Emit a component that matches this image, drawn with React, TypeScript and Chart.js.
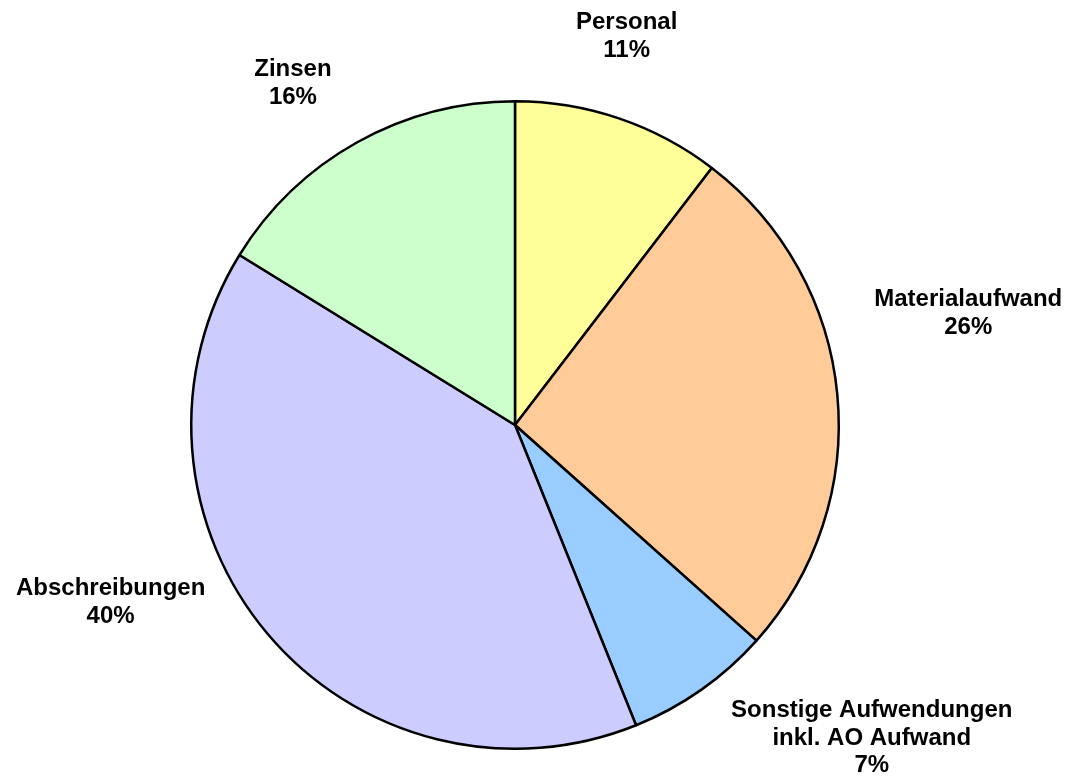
import React, { useEffect, useRef } from "react";
import { Chart, registerables } from "chart.js";

Chart.register(...registerables);

const categories: string[][] = [
  ["Personal"],
  ["Materialaufwand"],
  ["Sonstige Aufwendungen", "inkl. AO Aufwand"],
  ["Abschreibungen"],
  ["Zinsen"],
];
const values: number[] = [10.4, 26.2, 7.3, 39.9, 16.2];
const percentLabels: string[] = ["11%", "26%", "7%", "40%", "16%"];
const colors: string[] = ["#FFFF99", "#FFCC99", "#99CCFF", "#CCCCFF", "#CCFFCC"];

// label block centres, relative to pie centre, in units of the pie radius
const labelOffsets: [number, number][] = [
  [0.345, -1.201],
  [1.4, -0.345],
  [1.102, 0.967],
  [-1.249, 0.548],
  [-0.686, -1.054],
];

const labelPlugin = {
  id: "pieLabels",
  afterDatasetsDraw(chart: any) {
    const meta = chart.getDatasetMeta(0);
    if (!meta || !meta.data.length) return;
    const arc = meta.data[0];
    const cx = arc.x;
    const cy = arc.y;
    const r = arc.outerRadius;
    const ctx = chart.ctx;
    ctx.save();
    ctx.fillStyle = "#000";
    ctx.font = "bold 24px 'Liberation Sans', Arial, sans-serif";
    ctx.textAlign = "center";
    ctx.textBaseline = "middle";
    const lh = 27.8;
    categories.forEach((lines, i) => {
      const all = [...lines, percentLabels[i]];
      const [ox, oy] = labelOffsets[i];
      const bx = cx + ox * r;
      const by = cy + oy * r;
      all.forEach((t, j) => {
        ctx.fillText(t, bx, by + (j - (all.length - 1) / 2) * lh);
      });
    });
    ctx.restore();
  },
};

export default function App() {
  const ref = useRef<HTMLCanvasElement | null>(null);
  useEffect(() => {
    if (!ref.current) return;
    const chart = new Chart(ref.current, {
      type: "pie",
      data: {
        labels: categories.map((c) => c.join(" ")),
        datasets: [
          {
            data: values,
            backgroundColor: colors,
            borderColor: "#000000",
            borderWidth: 2.5,
          },
        ],
      },
      options: {
        animation: false,
        responsive: false,
        maintainAspectRatio: false,
        layout: { padding: { left: 190, top: 100, right: 228, bottom: 28 } },
        plugins: {
          legend: { display: false },
          tooltip: { enabled: false },
        },
      },
      plugins: [labelPlugin],
    });
    return () => chart.destroy();
  }, []);
  return (
    <div style={{ position: "fixed", left: 0, top: 0, width: 1068, height: 778, background: "#fff" }}>
      <canvas ref={ref} width={1068} height={778} style={{ width: 1068, height: 778 }} />
    </div>
  );
}
